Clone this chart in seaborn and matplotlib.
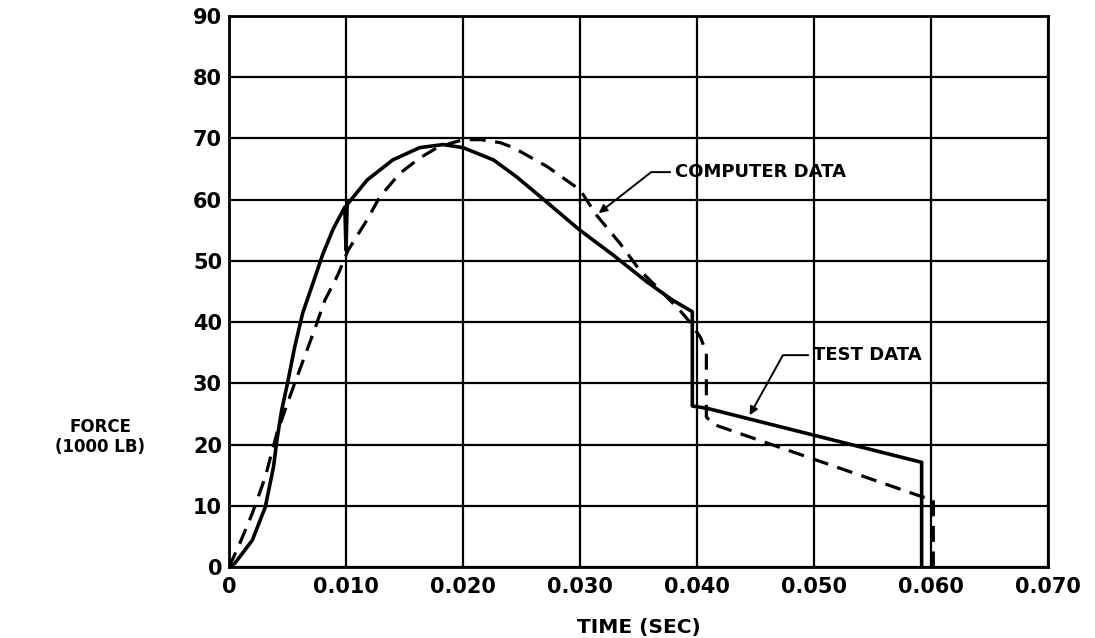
import numpy as np
import matplotlib
matplotlib.use("Agg")
import matplotlib.pyplot as plt
import seaborn as sns

# ---- data ----
test_time = [0, 0.0005, 0.0020, 0.0031, 0.0038, 0.0041, 0.0045, 0.0050, 0.0056,
             0.0063, 0.0072, 0.0080, 0.0089, 0.0099, 0.0100, 0.0101, 0.0118, 0.0140,
             0.0163, 0.0183, 0.0200, 0.0226, 0.0246, 0.0266, 0.0300, 0.0328,
             0.0357, 0.0379, 0.0396, 0.0396, 0.0409, 0.0592, 0.0592]
test_force = [0, 0.6, 4.4, 9.8, 16.3, 20.8, 25.6, 30.0, 35.8,
              41.5, 46.5, 51.0, 55.2, 58.8, 51.8, 59.2, 63.2, 66.5,
              68.5, 69.0, 68.5, 66.5, 63.7, 60.5, 55.0, 51.0,
              46.6, 43.6, 41.7, 26.3, 25.9, 17.1, 0]

comp_time = [0, 0.0008, 0.0020, 0.0031, 0.0041, 0.0054, 0.0073, 0.0082, 0.0093,
             0.0102, 0.0118, 0.0129, 0.0146, 0.0163, 0.0178, 0.0191, 0.0200,
             0.0215, 0.0232, 0.0243, 0.0272, 0.0300, 0.0314, 0.0334, 0.0351,
             0.0368, 0.0385, 0.0394, 0.0403, 0.0408, 0.0408, 0.0414, 0.0592,
             0.0602, 0.0602]
comp_force = [0, 3.3, 8.8, 14.7, 21.9, 28.9, 38.7, 43.6, 47.7,
              51.8, 56.7, 60.5, 64.3, 66.8, 68.5, 69.3, 69.8,
              69.8, 69.3, 68.5, 65.4, 61.6, 57.5, 52.9, 48.5,
              45.3, 42.0, 40.0, 37.5, 35.0, 24.5, 23.3, 11.5,
              11.0, 0]

x_ticks = [0, 0.010, 0.020, 0.030, 0.040, 0.050, 0.060, 0.070]
x_tick_labels = ["0", "0.010", "0.020", "0.030", "0.040", "0.050", "0.060", "0.070"]
y_ticks = [0, 10, 20, 30, 40, 50, 60, 70, 80, 90]
y_tick_labels = ["0", "10", "20", "30", "40", "50", "60", "70", "80", "90"]

# ---- style ----
sns.set_theme(style="white")
plt.rcParams["font.family"] = ["DejaVu Sans"]
plt.rcParams["font.weight"] = "bold"
plt.rcParams["text.color"] = "black"

fig = plt.figure(figsize=(10.95, 6.38), dpi=100)
ax = fig.add_axes([229 / 1095, 1 - 567 / 638, 819 / 1095, 551 / 638])

sns.lineplot(x=test_time, y=test_force, sort=False, estimator=None,
             color="black", linewidth=2.6, ax=ax)
sns.lineplot(x=comp_time, y=comp_force, sort=False, estimator=None,
             color="black", linewidth=2.3, linestyle=(0, (5, 3)), ax=ax)

ax.set_xlim(0, 0.070)
ax.set_ylim(0, 90)
ax.set_xticks(x_ticks)
ax.set_xticklabels(x_tick_labels)
ax.set_yticks(y_ticks)
ax.set_yticklabels(y_tick_labels)
ax.tick_params(axis="both", length=0, labelsize=15, colors="black")
ax.tick_params(axis="x", pad=7)
ax.tick_params(axis="y", pad=5)
for lab in ax.get_xticklabels() + ax.get_yticklabels():
    lab.set_fontweight("bold")

ax.grid(True, color="black", linewidth=1.6)
ax.set_axisbelow(True)
for sp in ax.spines.values():
    sp.set_visible(True)
    sp.set_color("black")
    sp.set_linewidth(2.0)

ax.set_xlabel("TIME (SEC)", fontsize=14.5, fontweight="bold", color="black")
ax.xaxis.set_label_coords(0.5, -0.092)
ax.set_ylabel("FORCE\n(1000 LB)", fontsize=12, fontweight="bold", color="black",
              rotation=0, ha="center", va="center", multialignment="center")
ax.yaxis.set_label_coords(-0.1575, 0.236)

# ---- annotations ----
ax.annotate("COMPUTER DATA", xy=(0.0316, 57.8), xytext=(0.0381, 64.5),
            fontsize=13, fontweight="bold", ha="left", va="center", color="black",
            arrowprops=dict(arrowstyle="-|>", color="black", lw=1.4,
                            mutation_scale=12, relpos=(0, 0.5),
                            shrinkA=1, shrinkB=0,
                            connectionstyle="angle,angleA=0,angleB=38,rad=0"))
ax.annotate("TEST DATA", xy=(0.0445, 24.8), xytext=(0.0499, 34.6),
            fontsize=13, fontweight="bold", ha="left", va="center", color="black",
            arrowprops=dict(arrowstyle="-|>", color="black", lw=1.4,
                            mutation_scale=12, relpos=(0, 0.5),
                            shrinkA=1, shrinkB=0,
                            connectionstyle="angle,angleA=0,angleB=61,rad=0"))

fig.savefig("out.png", dpi=100)
